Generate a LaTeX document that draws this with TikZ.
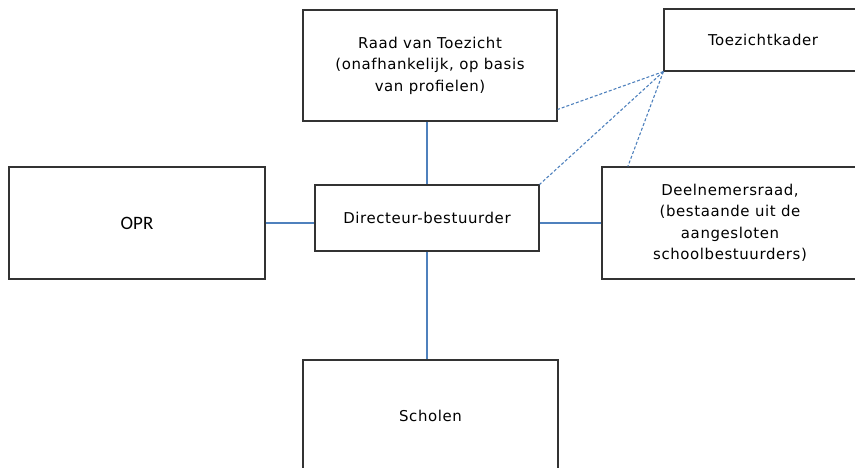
\documentclass[tikz,border=0pt]{standalone}
\usepackage{fontspec}
\setmainfont{DejaVu Sans}[LetterSpace=4]
\newfontfamily\oprfont{Carlito}
\usetikzlibrary{positioning}
\definecolor{linkblue}{RGB}{79,129,189}

\begin{document}
\begin{tikzpicture}[
    x=1bp, y=-1bp,
    every node/.style={font=\fontsize{15}{21.5}\selectfont},
    box/.style={rectangle, draw=black!80, line width=1.2bp, align=center, inner sep=0pt},
    link/.style={draw=linkblue, line width=1.1bp},
    dashlink/.style={link, dash pattern=on 3bp off 2bp}
]
\clip (0,0) rectangle (855,468);

% Nodes
\node[box, minimum width=224bp, minimum height=66bp] (dir) at (427,218) {Directeur-bestuurder};
\node[box, minimum width=254bp, minimum height=111bp] (raad) at (430,65.5) {Raad van Toezicht\\(onafhankelijk, op basis\\van profielen)};
\node[box, minimum width=198bp, minimum height=62bp] (kader) at (763,40) {Toezichtkader};
\node[box, minimum width=256bp, minimum height=112bp, font=\oprfont\fontsize{19}{22}\selectfont] (opr) at (137,223) {OPR};
\node[box, minimum width=256bp, minimum height=112bp] (deel) at (730,223) {Deelnemersraad,\\(bestaande uit de\\aangesloten\\schoolbestuurders)};
\node[box, minimum width=255bp, minimum height=112bp] (scholen) at (430.5,416) {Scholen};

% Edges
\draw[link] (dir.north |- raad.south) -- (dir.north);
\draw[link] (dir.south) -- (dir.south |- scholen.north);
\draw[link] (opr.east) -- (opr.east -| dir.west);
\draw[link] (deel.west) -- (deel.west -| dir.east);
\draw[dashlink] (kader.south west) -- (raad.-19);
\draw[dashlink] (kader.south west) -- (dir.north east);
\draw[dashlink] (kader.south west) -- (deel.151);

\end{tikzpicture}
\end{document}
